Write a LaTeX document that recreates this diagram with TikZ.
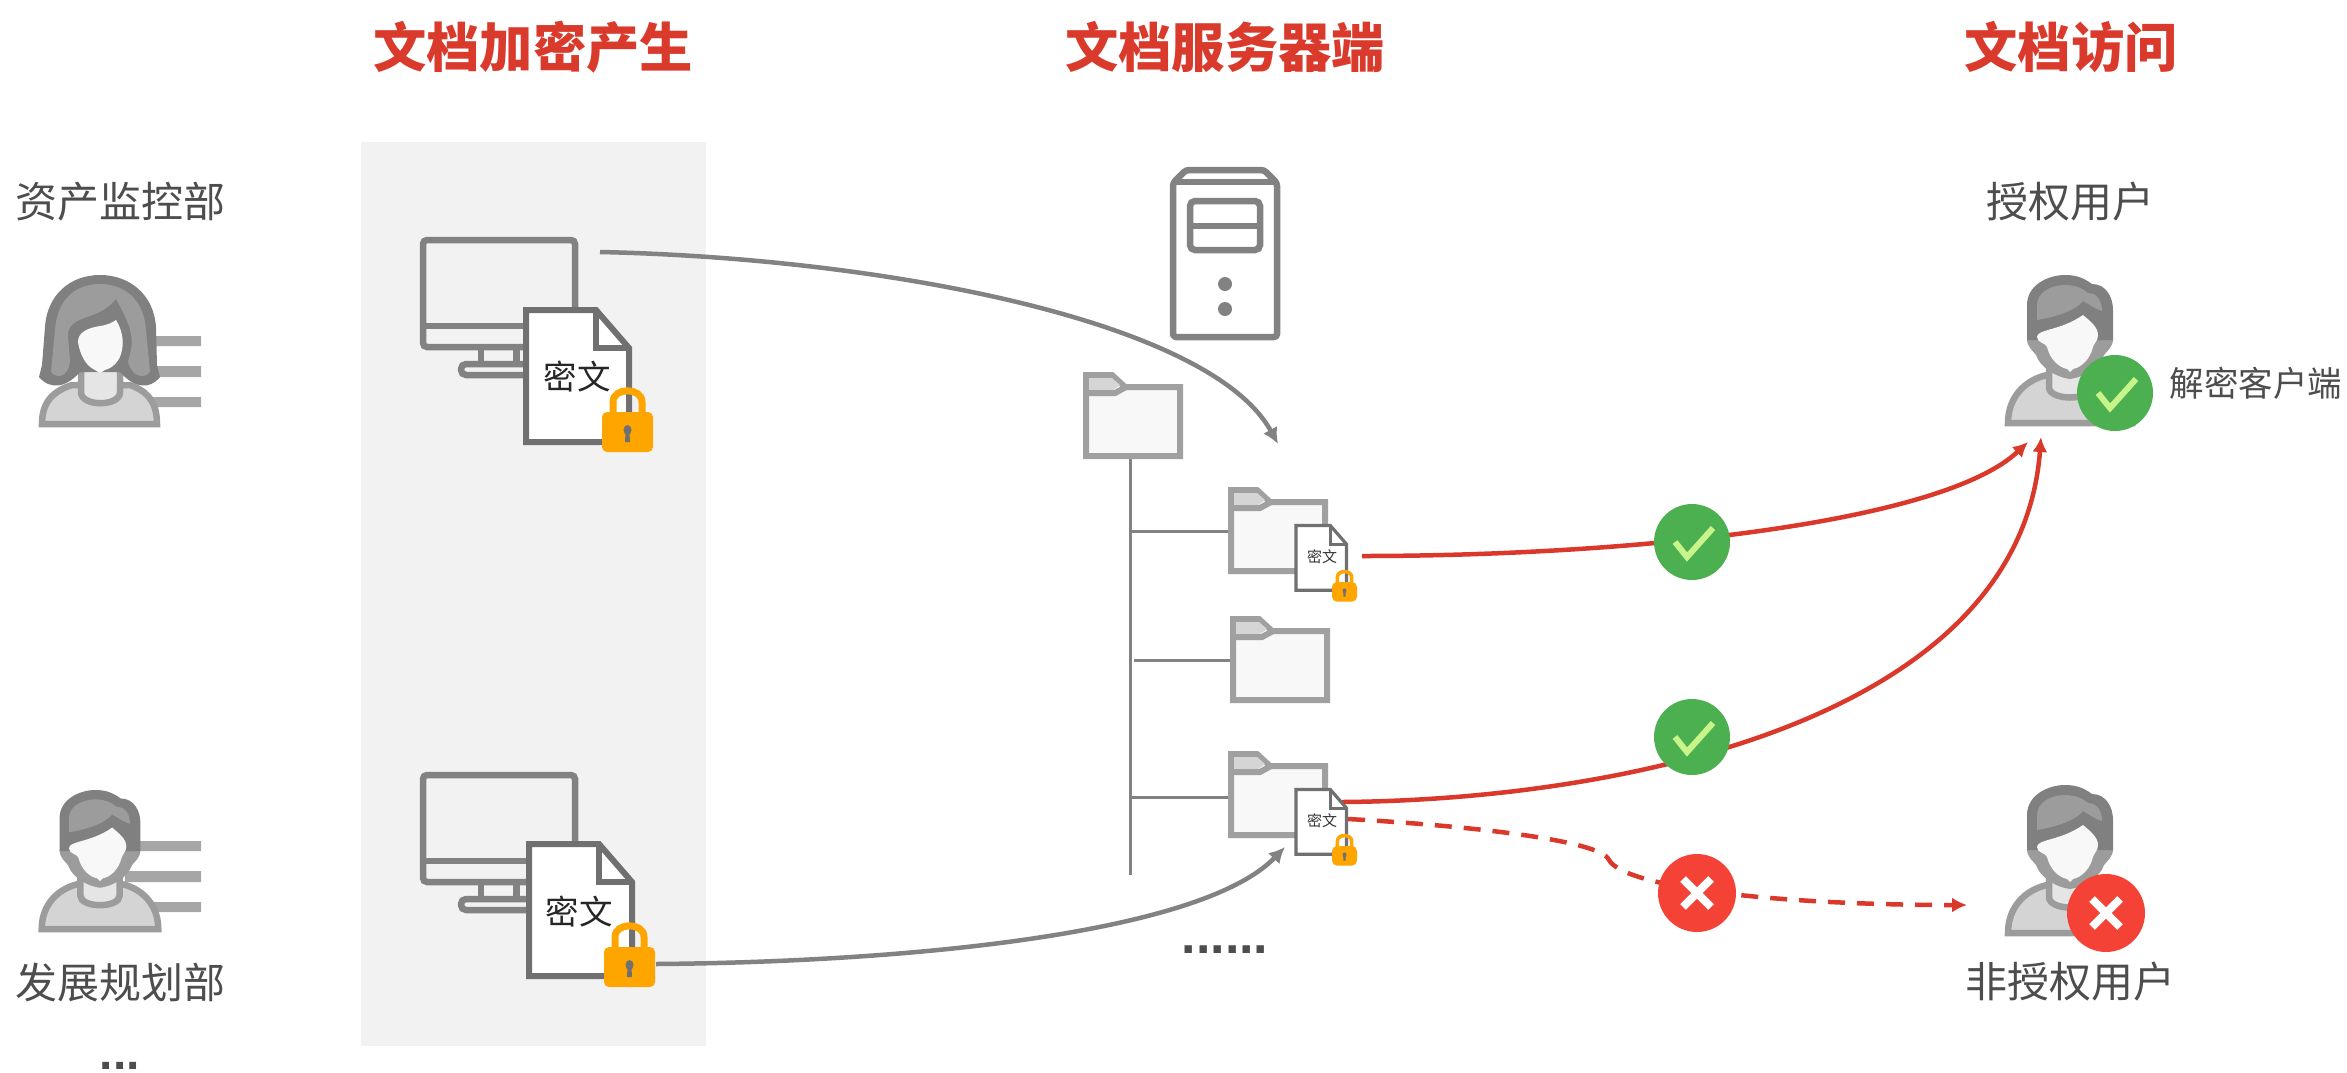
\documentclass[tikz,border=0pt]{standalone}
\usepackage{fontspec}
\newfontfamily\cjk{Noto Sans CJK SC}
\newfontfamily\latinf{Liberation Sans}
\usetikzlibrary{arrows.meta}
\definecolor{titlered}{HTML}{D93A2B}
\definecolor{linkred}{HTML}{D9382A}
\definecolor{labelgray}{HTML}{4D4D4D}
\definecolor{paneback}{HTML}{F2F2F2}
\definecolor{dev}{HTML}{828282}
\definecolor{docline}{HTML}{707070}
\definecolor{foldline}{HTML}{A0A0A0}
\definecolor{foldfill}{HTML}{F8F8F8}
\definecolor{tabfill}{HTML}{D5D5D5}
\definecolor{lockor}{HTML}{FFA500}
\definecolor{hairdark}{HTML}{808080}
\definecolor{hairlight}{HTML}{9C9C9C}
\definecolor{bodyfill}{HTML}{D4D4D4}
\definecolor{barline}{HTML}{A6A6A6}
\definecolor{okgreen}{HTML}{4CAF50}
\definecolor{oktick}{HTML}{C8F58A}
\definecolor{badred}{HTML}{F44336}
\tikzset{
  titletext/.style={font=\cjk\bfseries\fontsize{53.3}{60}\selectfont,text=titlered,inner sep=0pt},
  labeltext/.style={font=\cjk\fontsize{42}{48}\selectfont,text=labelgray,inner sep=0pt},
  smalllabel/.style={font=\cjk\fontsize{34.5}{40}\selectfont,text=labelgray,inner sep=0pt},
  wenbig/.style={font=\cjk\fontsize{33.5}{40}\selectfont,text=black!85,inner sep=0pt},
  wensmall/.style={font=\cjk\fontsize{15}{18}\selectfont,text=black!80,inner sep=0pt},
  dotstext/.style={font=\latinf\bfseries\fontsize{#1}{#1}\selectfont,text=labelgray,inner sep=0pt,anchor=base},
  devline/.style={draw=dev,line width=6.5pt},
  treeline/.style={draw=dev,line width=3pt},
  grayarrow/.style={draw=dev,line width=4.5pt,-{Latex[length=16pt,width=16pt]}},
  redarrow/.style={draw=linkred,line width=4.5pt,-{Latex[length=15pt,width=15pt]}},
  reddash/.style={draw=linkred,line width=4.5pt,dash pattern=on 17pt off 12pt,-{Latex[length=15pt,width=15pt]}},
  okbadge/.style={circle,fill=okgreen,minimum size=76pt,inner sep=0pt},
  badbadge/.style={circle,fill=badred,minimum size=78pt,inner sep=0pt},
  pics/lock/.style={code={
    \draw[draw=lockor,line width=#1] (11,2) -- (11,-10) .. controls (11,-25) and (40,-25) .. (40,-10) -- (40,2);
    \fill[lockor,rounded corners=5pt] (0,0) rectangle (51,40);
    \fill[docline] (25.5,18) ellipse (4 and 5);
    \fill[docline] (23.5,20) -- (27.5,20) -- (28,30) -- (23,30) -- cycle;
  }},
  pics/docsheet/.style={code={
    \draw[draw=docline,fill=white,line width=#1,line join=miter] (0,0) -- (70,0) -- (103,38) -- (103,132) -- (0,132) -- cycle;
    \draw[draw=docline,line width=#1] (70,0) -- (70,38) -- (103,38);
  }},
  pics/folder/.style={code={
    \draw[draw=foldline,fill=foldfill,line width=6pt,line join=miter] (3,3) -- (29,3) -- (42,15) -- (97,15) -- (97,84) -- (3,84) -- cycle;
    \fill[tabfill] (6,6) -- (29,6) -- (37,13) -- (30,18) -- (6,18) -- cycle;
    \draw[draw=foldline,line width=6pt] (3,21) -- (32,21) -- (43,15);
  }},
  pics/monitor/.style={code={
    \draw[devline,rounded corners=4pt] (3,3) rectangle (155,110);
    \draw[devline] (3,89) -- (155,89);
    \draw[devline] (61,110) -- (61,127);
    \draw[devline] (96.5,110) -- (96.5,127);
    \draw[devline,rounded corners=5pt] (115,127) -- (41,127) -- (41,138) -- (115,138);
  }},
  pics/male/.style={code={
    \draw[draw=hairlight,fill=bodyfill,line width=6.5pt] (-62,148) .. controls (-62,122) and (-45,105) .. (-23,100) -- (23,100) .. controls (45,105) and (62,122) .. (62,148) -- cycle;
    \draw[draw=hairlight,fill=bodyfill!60!white,line width=6.5pt] (-21,90) -- (-21,112) .. controls (-21,126) and (21,126) .. (21,112) -- (21,90);
    \fill[hairlight] (-43,64) .. controls (-43,72) and (-37,76) .. (-34,80) .. controls (-30,92) and (-15,102) .. (0,104) .. controls (15,102) and (30,92) .. (34,80) .. controls (37,76) and (43,72) .. (43,64) -- cycle;
    \fill[hairdark] (-43,65) -- (-43,30) .. controls (-43,10) and (-22,0) .. (-5,0) .. controls (8,0) and (15,4) .. (22,9) .. controls (36,9) and (43,22) .. (43,35) -- (43,65) -- cycle;
    \fill[hairlight] (-33,45) -- (-33,30) .. controls (-33,18) and (-20,10) .. (-5,10) .. controls (5,10) and (12,13) .. (18,18) .. controls (27,18) and (32,26) .. (32,36) .. controls (25,34) and (20,30) .. (13,26) .. controls (5,36) and (-15,42) .. (-33,45) -- cycle;
    \fill[foldfill] (-33,62) .. controls (-33,54) and (-10,56) .. (13,40) .. controls (20,46) and (28,52) .. (28,60) .. controls (28,66) and (24,68) .. (23,72) .. controls (20,84) and (12,92) .. (3,94) -- (0,97) -- (-3,94) .. controls (-12,92) and (-20,84) .. (-23,72) .. controls (-24,68) and (-33,68) .. (-33,62) -- cycle;
  }},
  pics/tickmark/.style={code={
    \draw[draw=oktick,line width=6pt,line join=miter] (-17,0) -- (-5,15) -- (21,-14);
  }},
  pics/crossmark/.style={code={
    \draw[draw=white,line width=8pt] (-14,-14) -- (14,14) (-14,14) -- (14,-14);
  }},
}
\begin{document}
\begin{tikzpicture}[x=1pt,y=-1pt]
\useasboundingbox (0,0) rectangle (2347,1072);
% pane
\fill[paneback] (361,142) rectangle (706,1046);
% titles
\node[titletext] (t1) at (533,47) {文档加密产生};
\node[titletext] (t2) at (1225,47) {文档服务器端};
\node[titletext] (t3) at (2071,47) {文档访问};
% left labels
\node[labeltext] (dep1) at (120,202) {资产监控部};
\node[labeltext] (dep2) at (120,983) {发展规划部};
\node[dotstext=48] (dep3) at (120,1069) {...};
% female user with bars
\fill[barline] (150,336) rectangle (201,346) (150,366) rectangle (201,377) (150,397) rectangle (201,407);
\draw[draw=hairlight,fill=bodyfill,line width=6.5pt] (42,424) .. controls (42,405) and (50,392) .. (72,385) -- (130,385) .. controls (150,392) and (157,405) .. (157,424) -- cycle;
\draw[draw=hairlight,fill=bodyfill!60!white,line width=6.5pt] (81,370) -- (81,392) .. controls (81,407) and (120,407) .. (120,392) -- (120,370);
\fill[hairdark] (100,275) .. controls (70,275) and (47,295) .. (45,327) -- (42,365) -- (39,377) .. controls (50,390) and (66,388) .. (80,372) -- (120,372) .. controls (134,388) and (150,390) .. (160,377) -- (157,365) -- (156,327) .. controls (154,295) and (130,275) .. (100,275) -- cycle;
\fill[hairlight] (100,284) .. controls (75,284) and (57,300) .. (55,330) -- (51,372) .. controls (58,380) and (68,376) .. (70,362) -- (68,335) .. controls (68,322) and (80,320) .. (95,314) .. controls (105,310) and (112,304) .. (116,299) .. controls (128,320) and (134,335) .. (131,350) -- (128,362) .. controls (132,376) and (143,380) .. (150,372) -- (146,330) .. controls (144,300) and (125,284) .. (100,284) -- cycle;
\fill[foldfill] (78,342) .. controls (78,332) and (88,328) .. (100,326) .. controls (108,325) and (113,322) .. (116,320) .. controls (122,330) and (124,340) .. (122,350) .. controls (120,362) and (112,368) .. (105,370) -- (100,373) -- (95,370) .. controls (86,366) and (80,355) .. (78,342) -- cycle;
% male user with bars
\fill[barline] (130,841) rectangle (201,851) (125,871) rectangle (201,882) (140,902) rectangle (201,912);
\pic[scale=.94] at (100,790) {male};
% computers
\pic at (420,237) {monitor};
\pic at (420,772) {monitor};
% server
\draw[devline,fill=white,line join=round,rounded corners=3pt] (1173,337) -- (1173,183) -- (1186,170) -- (1264,170) -- (1277,183) -- (1277,337) -- cycle;
\draw[devline] (1173,182) -- (1277,182);
\draw[devline,rounded corners=5pt] (1190,201) rectangle (1260,250);
\draw[devline] (1190,226) -- (1260,226);
\fill[dev] (1225,284) circle (7) (1225,309) circle (7);
% tree
\draw[treeline] (1130,459) -- (1130,875);
\draw[treeline] (1130,531) -- (1228,531);
\draw[treeline] (1134,660) -- (1230,660);
\draw[treeline] (1130,797) -- (1228,797);
% named connector ends
\coordinate (srcA) at (600,252);
\coordinate (dstA) at (1278,444);
\coordinate (srcB) at (656,964);
\coordinate (dstB) at (1285,847);
\coordinate (srcC) at (1362,556);
\coordinate (dstC) at (2028,442);
\coordinate (srcD) at (1342,802);
\coordinate (dstD) at (2041,437);
\coordinate (srcE) at (1348,819);
\coordinate (kink) at (1609,860);
\coordinate (dstE) at (1967,905);
% connectors
\draw[grayarrow] (srcA) .. controls (880,258) and (1210,320) .. (dstA);
\draw[grayarrow] (srcB) .. controls (900,962) and (1200,935) .. (dstB);
\draw[redarrow] (srcC) .. controls (1620,556) and (1940,525) .. (dstC);
\draw[redarrow] (srcD) .. controls (1620,800) and (2020,720) .. (dstD);
\draw[reddash] (srcE) .. controls (1440,824) and (1600,838) .. (kink) .. controls (1625,888) and (1780,905) .. (dstE);
% folders
\pic at (1083,372) {folder};
\pic at (1228,487) {folder};
\pic at (1230,616) {folder};
\pic at (1228,751) {folder};
% large docs
\pic at (526,310) {docsheet=6pt};
\node[wenbig] (w1) at (577,377) {密文};
\pic at (602,412) {lock=7pt};
\pic at (529,844) {docsheet=6pt};
\node[wenbig] (w2) at (579,912) {密文};
\pic at (604,947) {lock=7pt};
% small docs
\pic[scale=.49] at (1296,525.5) {docsheet=3.2pt};
\node[wensmall] (w3) at (1322,557) {密文};
\pic[scale=.49] at (1332,582) {lock=3.5pt};
\pic[scale=.49] at (1296,789.5) {docsheet=3.2pt};
\node[wensmall] (w4) at (1322,821) {密文};
\pic[scale=.49] at (1332,846) {lock=3.5pt};
\node[dotstext=52] (more) at (1225,953) {......};
% right users
\node[labeltext] (u1) at (2070,202) {授权用户};
\pic at (2070,275) {male};
\node[labeltext] (u2) at (2070,982) {非授权用户};
\pic at (2070,785) {male};
\node[smalllabel] (u3) at (2256,383) {解密客户端};
% badges
\node[okbadge] (ok0) at (2115,393) {};
\pic at (ok0) {tickmark};
\node[okbadge] (ok1) at (1692,542) {};
\pic at (ok1) {tickmark};
\node[okbadge] (ok2) at (1692,737) {};
\pic at (ok2) {tickmark};
\node[badbadge] (bad1) at (1697,893) {};
\pic at (bad1) {crossmark};
\node[badbadge] (bad2) at (2106,913) {};
\pic at (bad2) {crossmark};
\end{tikzpicture}
\end{document}
